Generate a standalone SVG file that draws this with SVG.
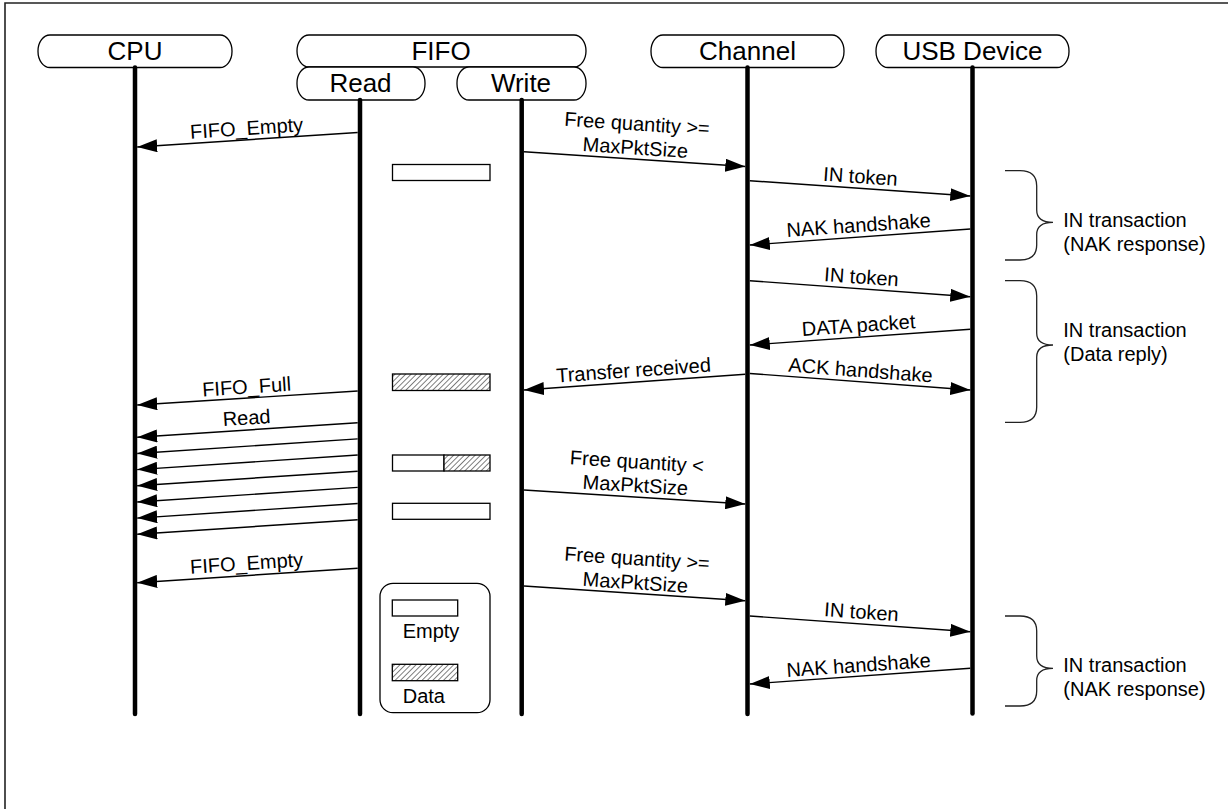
<svg xmlns="http://www.w3.org/2000/svg" width="1228" height="809" viewBox="0 0 1228 809">
<style>
.hdr{font-family:"Liberation Sans",Arial,sans-serif;font-size:26px;fill:#000;text-anchor:middle}
.lbl{font-family:"Liberation Sans",Arial,sans-serif;font-size:20px;fill:#000;text-anchor:middle}
.lgd{font-family:"Liberation Sans",Arial,sans-serif;font-size:20px;fill:#000}
.box{fill:#fff;stroke:#000;stroke-width:1.3}
.life{stroke:#000;stroke-width:4.5;stroke-linecap:round;fill:none}
.msg{stroke:#000;stroke-width:1.4;fill:none;marker-end:url(#arr)}
.brace{stroke:#222;stroke-width:1.3;fill:none}
.cell{stroke:#000;stroke-width:1.3}
</style>
<defs>
<marker id="arr" markerUnits="userSpaceOnUse" markerWidth="20" markerHeight="13" refX="20" refY="6.5" orient="auto" viewBox="0 0 20 13">
<path d="M0,0 L20,6.5 L0,13 Z" fill="#000"/>
</marker>
<pattern id="hatch" patternUnits="userSpaceOnUse" width="3.8" height="3.8" patternTransform="rotate(45)">
<rect width="3.8" height="3.8" fill="#fff"/>
<line x1="0" y1="0" x2="0" y2="3.8" stroke="#000" stroke-width="1"/>
</pattern>
</defs>
<rect width="1228" height="809" fill="#fff"/>
<path d="M5,815 V3 H1235" fill="none" stroke="#222" stroke-width="1.6"/>

<g id="cpu">
<rect class="box" x="38" y="35" width="194" height="32.5" rx="12" ry="16"/>
<text class="hdr" x="135" y="60">CPU</text>
<line class="life" x1="135" y1="67.5" x2="135" y2="714"/>
</g>
<g id="fifo">
<rect class="box" x="297" y="35" width="289" height="32" rx="12" ry="16"/>
<text class="hdr" x="441" y="59.5">FIFO</text>
</g>
<g id="fifo-read">
<rect class="box" x="297" y="67" width="128" height="33" rx="12" ry="16"/>
<text class="hdr" x="360.5" y="92">Read</text>
<line class="life" x1="360" y1="100" x2="360" y2="714"/>
</g>
<g id="fifo-write">
<rect class="box" x="457" y="67" width="129" height="33" rx="12" ry="16"/>
<text class="hdr" x="521" y="92">Write</text>
<line class="life" x1="521.7" y1="100" x2="521.7" y2="714"/>
</g>
<g id="channel">
<rect class="box" x="651" y="35" width="193" height="32.5" rx="12" ry="16"/>
<text class="hdr" x="747.5" y="60">Channel</text>
<line class="life" x1="747.5" y1="67.5" x2="747.5" y2="714"/>
</g>
<g id="usb">
<rect class="box" x="876" y="35" width="193" height="32.5" rx="12" ry="16"/>
<text class="hdr" x="972.5" y="60">USB Device</text>
<line class="life" x1="972.5" y1="67.5" x2="972.5" y2="713.5"/>
</g>

<g id="fifo-states">
<rect class="cell" x="392.5" y="164.5" width="97.5" height="16" fill="#fff"/>
<rect class="cell" x="392.5" y="374" width="97.5" height="16.5" fill="url(#hatch)"/>
<rect class="cell" x="392.5" y="455" width="51.5" height="16" fill="#fff"/>
<rect class="cell" x="444" y="455" width="46" height="16" fill="url(#hatch)"/>
<rect class="cell" x="392.5" y="503.3" width="97.5" height="16" fill="#fff"/>
</g>

<g id="legend">
<rect x="380" y="583.3" width="110" height="129.4" rx="13" fill="#fff" stroke="#000" stroke-width="1.3"/>
<rect class="cell" x="392.3" y="600" width="65.4" height="16" fill="#fff"/>
<text class="lgd" x="402.7" y="638">Empty</text>
<rect class="cell" x="392.3" y="664.3" width="65.4" height="16.4" fill="url(#hatch)"/>
<text class="lgd" x="402.7" y="703">Data</text>
</g>

<g id="connectors">
<line class="msg" x1="357.7" y1="132.5" x2="137.2" y2="147"/>
<line class="msg" x1="524" y1="151.7" x2="745.3" y2="166.5"/>
<line class="msg" x1="749.8" y1="180.7" x2="970.3" y2="196"/>
<line class="msg" x1="970.3" y1="229" x2="749.8" y2="245"/>
<line class="msg" x1="749.8" y1="280.7" x2="970.3" y2="296.7"/>
<line class="msg" x1="970.3" y1="329.3" x2="749.8" y2="345"/>
<line class="msg" x1="745.3" y1="374.3" x2="524" y2="390"/>
<line class="msg" x1="749.8" y1="373.5" x2="970.3" y2="390"/>
<line class="msg" x1="357.7" y1="391" x2="137.2" y2="405"/>
<line class="msg" x1="357.7" y1="422.7" x2="137.2" y2="437.3"/>
<line class="msg" x1="357.7" y1="438.9" x2="137.2" y2="453.5"/>
<line class="msg" x1="357.7" y1="455" x2="137.2" y2="469.6"/>
<line class="msg" x1="357.7" y1="471.2" x2="137.2" y2="485.8"/>
<line class="msg" x1="357.7" y1="487.4" x2="137.2" y2="502"/>
<line class="msg" x1="357.7" y1="503.5" x2="137.2" y2="518.1"/>
<line class="msg" x1="357.7" y1="519.7" x2="137.2" y2="534.3"/>
<line class="msg" x1="524" y1="490" x2="745.3" y2="504"/>
<line class="msg" x1="357.7" y1="568.3" x2="137.2" y2="582.7"/>
<line class="msg" x1="524" y1="586" x2="745.3" y2="600.7"/>
<line class="msg" x1="749.8" y1="616" x2="970.3" y2="631.7"/>
<line class="msg" x1="970.3" y1="668.3" x2="749.8" y2="684"/>
</g>

<g id="labels">
<text class="lbl" transform="translate(247,135) rotate(-3.8)">FIFO_Empty</text>
<g transform="translate(635,154.5) rotate(3.8)"><text class="lbl" y="-24">Free quantity &gt;=</text><text class="lbl" y="0">MaxPktSize</text></g>
<text class="lbl" transform="translate(860,183.3) rotate(4)">IN token</text>
<text class="lbl" transform="translate(859,232) rotate(-4)">NAK handshake</text>
<text class="lbl" transform="translate(861,283.7) rotate(4)">IN token</text>
<text class="lbl" transform="translate(859,332) rotate(-4)">DATA packet</text>
<text class="lbl" transform="translate(634,377) rotate(-4)">Transfer received</text>
<text class="lbl" transform="translate(860,377) rotate(4.3)">ACK handshake</text>
<text class="lbl" transform="translate(247,393.5) rotate(-3.8)">FIFO_Full</text>
<text class="lbl" transform="translate(247,424.5) rotate(-3.8)">Read</text>
<g transform="translate(635,492) rotate(3.6)"><text class="lbl" y="-23.5">Free quantity &lt;</text><text class="lbl" y="0">MaxPktSize</text></g>
<text class="lbl" transform="translate(247,570) rotate(-3.8)">FIFO_Empty</text>
<g transform="translate(635,589.3) rotate(3.8)"><text class="lbl" y="-24">Free quantity &gt;=</text><text class="lbl" y="0">MaxPktSize</text></g>
<text class="lbl" transform="translate(861,618.7) rotate(4)">IN token</text>
<text class="lbl" transform="translate(859,672) rotate(-4)">NAK handshake</text>
</g>

<g id="brace-nak-1">
<path class="brace" d="M1005,170.7 H1020 Q1036.7,170.7 1036.7,186 V210 Q1036.7,222.3 1053,222.3 Q1036.7,222.3 1036.7,234.5 V245 Q1036.7,260 1020,260 H1005"/>
<text class="lgd" x="1063.3" y="227">IN transaction</text>
<text class="lgd" x="1063.3" y="251">(NAK response)</text>
</g>
<g id="brace-data">
<path class="brace" d="M1005,280.7 H1020 Q1036.7,280.7 1036.7,296 V333 Q1036.7,345 1053,345 Q1036.7,345 1036.7,357 V407 Q1036.7,422.3 1020,422.3 H1005"/>
<text class="lgd" x="1063.3" y="337">IN transaction</text>
<text class="lgd" x="1063.3" y="361">(Data reply)</text>
</g>
<g id="brace-nak-2">
<path class="brace" d="M1005,616 H1020 Q1036.7,616 1036.7,631 V656 Q1036.7,668.3 1053,668.3 Q1036.7,668.3 1036.7,680.5 V691 Q1036.7,706 1020,706 H1005"/>
<text class="lgd" x="1063.3" y="672">IN transaction</text>
<text class="lgd" x="1063.3" y="696">(NAK response)</text>
</g>
</svg>
